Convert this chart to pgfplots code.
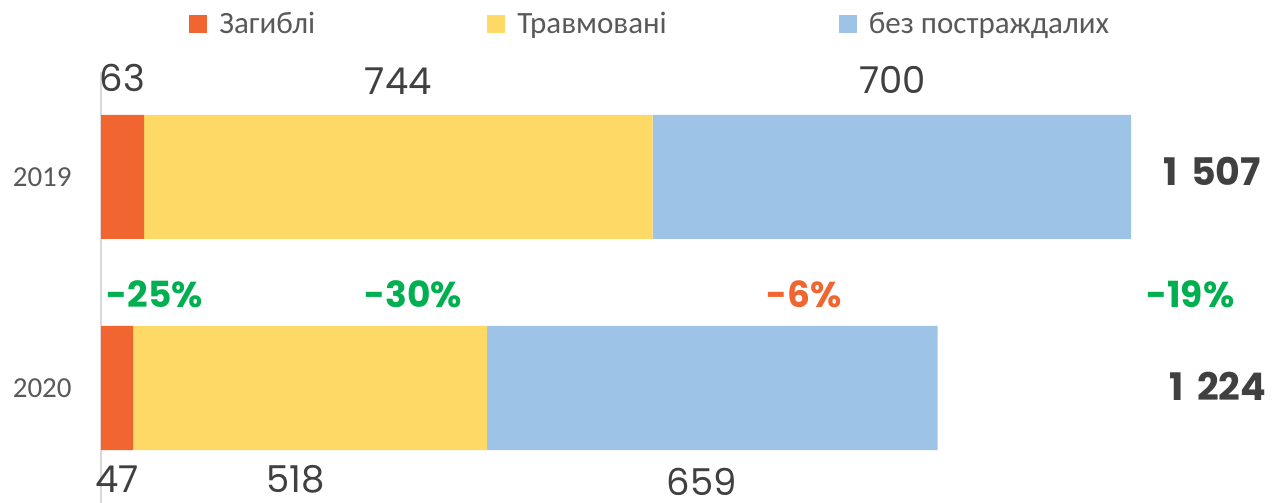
\documentclass[border=0pt]{standalone}
\usepackage{pgfplots}
\pgfplotsset{compat=1.18}
\usepackage{fontspec}
\setmainfont{Carlito}
\newfontfamily\pop{Poppins}
\definecolor{orng}{RGB}{241,102,48}
\definecolor{yel}{RGB}{254,217,102}
\definecolor{blu}{RGB}{157,195,230}
\definecolor{grn}{RGB}{0,176,80}
\definecolor{dtext}{RGB}{64,64,64}
\definecolor{ltext}{RGB}{89,89,89}
\definecolor{axgray}{RGB}{217,217,217}
\tikzset{
  vlab/.style={font=\pop\fontsize{18.5}{20}\selectfont, text=dtext, inner sep=0pt},
  plab/.style={font=\pop\bfseries\fontsize{18}{20}\selectfont, inner sep=0pt},
  tlab/.style={font=\pop\bfseries\fontsize{19}{21}\selectfont, text=dtext, inner sep=0pt},
}
\begin{document}
\begin{tikzpicture}
\path[use as bounding box] (0pt,0pt) rectangle (637pt,251.5pt);
\begin{axis}[
  at={(50.5pt,0pt)}, anchor=south west,
  scale only axis, width=515pt, height=215.5pt,
  xmin=0, xmax=1507, ymin=-0.545, ymax=1.4976,
  xbar stacked, bar width=62pt,
  axis x line=none, axis y line*=left,
  y axis line style={draw=axgray, line width=1pt},
  ytick={0,1}, yticklabels={2020,2019},
  major tick length=0pt,
  yticklabel style={font=\fontsize{14.5}{16}\selectfont, text=ltext, anchor=east, inner sep=0pt, xshift=-14.5pt},
  clip=false,
  legend columns=3,
  legend style={draw=none, fill=none, at={(0.08544,1.1114)}, anchor=west, inner sep=0pt,
    font=\fontsize{15.5}{17}\selectfont, text=ltext,
    /tikz/every odd column/.append style={column sep=4pt},
    /tikz/every even column/.append style={column sep=84pt}},
  legend image code/.code={\fill[#1] (0pt,-4.5pt) rectangle (9pt,4.5pt);},
]
\addplot[fill=orng, draw=none] coordinates {(63,1) (47,0)};
\addplot[fill=yel, draw=none] coordinates {(744,1) (518,0)};
\addplot[fill=blu, draw=none] coordinates {(700,1) (659,0)};
\legend{Загиблі, Травмовані, без постраждалих}
\node[vlab] at (axis cs:31.5,1.4716) {63};
\node[vlab] at (axis cs:435,1.4526) {744};
\node[vlab] at (axis cs:1158,1.4597) {700};
\node[vlab] at (axis cs:23.5,-0.432) {47};
\node[vlab] at (axis cs:285,-0.432) {518};
\node[vlab] at (axis cs:879,-0.445) {659};
\node[plab, text=grn] at (axis cs:79,0.443) {-25\%};
\node[plab, text=grn] at (axis cs:457,0.443) {-30\%};
\node[plab, text=orng] at (axis cs:1028.6,0.443) {-6\%};
\node[plab, text=grn] at (axis cs:1594,0.443) {-19\%};
\node[tlab] at (axis cs:1626,1.026) {1\hspace{0.35em}507};
\node[tlab] at (axis cs:1634,0.007) {1\hspace{0.35em}224};
\end{axis}
\end{tikzpicture}
\end{document}
